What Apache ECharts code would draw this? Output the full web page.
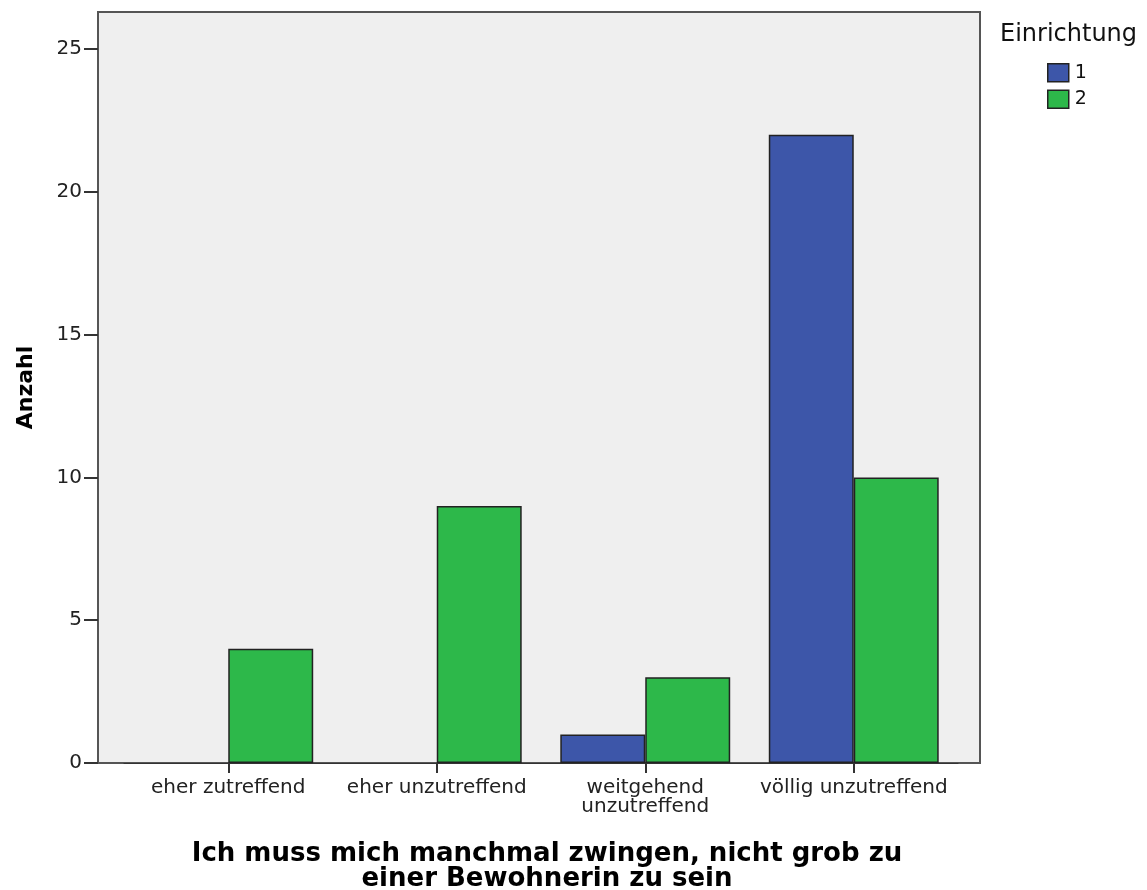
<!DOCTYPE html>
<html><head><meta charset="utf-8">
<script src="https://cdn.jsdelivr.net/npm/echarts@6/dist/echarts.min.js"></script>
<style>html,body{margin:0;padding:0;background:#fff}#c{width:1147px;height:890px}</style>
</head><body><div id="c"></div>
<script>
const categories = ['eher zutreffend', 'eher unzutreffend', 'weitgehend\nunzutreffend', 'völlig unzutreffend'];
const seriesNames = ['1', '2'];
const values1 = [0, 0, 1, 22];
const values2 = [4, 9, 3, 10];
const yTicks = [0, 5, 10, 15, 20, 25];

const chart = echarts.init(document.getElementById('c'), null, {renderer: 'canvas'});
const font = 'DejaVu Sans, sans-serif';
const yMax = 26.3;
const noZero = arr => arr.map(v => v === 0 ? '-' : v);
chart.setOption({
  animation: false,
  backgroundColor: '#ffffff',
  textStyle: {fontFamily: font},
  title: {
    text: 'Ich muss mich manchmal zwingen, nicht grob zu\neiner Bewohnerin zu sein',
    left: 542, top: 837, textAlign: 'center',
    textStyle: {fontFamily: font, fontSize: 26, fontWeight: 'bold', color: '#000', lineHeight: 25}
  },
  legend: {
    orient: 'vertical', left: 1047, top: 63, padding: 0,
    itemWidth: 21, itemHeight: 18, itemGap: 7, icon: 'rect',
    data: seriesNames,
    textStyle: {fontFamily: font, fontSize: 19, color: '#111', padding: [0, 0, 0, 1]},
    itemStyle: {borderColor: '#222', borderWidth: 1.5}
  },
  graphic: [{
    type: 'text', left: 1000, top: 23,
    style: {text: 'Einrichtung', font: '24px ' + font, fill: '#111'}
  }],
  grid: [
    {left: 98, right: 167, top: 12, bottom: 127, show: true, backgroundColor: '#efefef', borderColor: '#555', borderWidth: 2},
    {left: 124, right: 189, top: 12, bottom: 127}
  ],
  xAxis: [
    {type: 'value', gridIndex: 0, show: false, min: 0, max: 1},
    {type: 'category', gridIndex: 1, data: categories,
     axisLine: {show: true, lineStyle: {color: '#333', width: 1}},
     axisTick: {show: true, alignWithLabel: true, length: 10, lineStyle: {color: '#333', width: 2}},
     axisLabel: {interval: 0, fontFamily: font, fontSize: 20, color: '#222', margin: 15, lineHeight: 19}}
  ],
  yAxis: [
    {type: 'value', gridIndex: 0, min: 0, max: yMax, interval: 5,
     name: 'Anzahl', nameLocation: 'middle', nameGap: 61, nameRotate: 90,
     nameTextStyle: {fontFamily: font, fontSize: 22, fontWeight: 'bold', color: '#000'},
     axisLine: {show: true, lineStyle: {color: '#555', width: 2}},
     axisTick: {show: true, length: 14, customValues: yTicks, lineStyle: {color: '#333', width: 2}},
     axisLabel: {fontFamily: font, fontSize: 20, color: '#222', margin: 16, customValues: yTicks},
     splitLine: {show: false}},
    {type: 'value', gridIndex: 1, min: 0, max: yMax, show: false, splitLine: {show: false}}
  ],
  series: [
    {name: seriesNames[0], type: 'bar', xAxisIndex: 1, yAxisIndex: 1, data: noZero(values1),
     barGap: '0%', barCategoryGap: '18.5%',
     itemStyle: {color: '#3d56a9', borderColor: '#222', borderWidth: 1.5}},
    {name: seriesNames[1], type: 'bar', xAxisIndex: 1, yAxisIndex: 1, data: noZero(values2),
     barGap: '0%', barCategoryGap: '18.5%',
     itemStyle: {color: '#2db84a', borderColor: '#222', borderWidth: 1.5}}
  ]
});
</script></body></html>
